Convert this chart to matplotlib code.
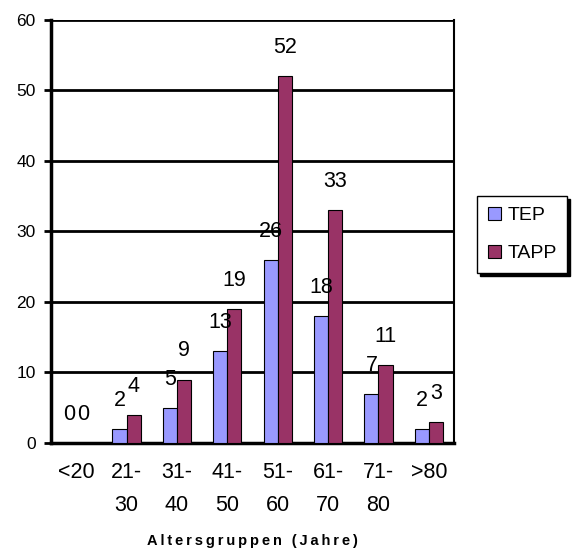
import matplotlib.pyplot as plt
import numpy as np

plt.rcParams['font.family'] = ['Liberation Sans', 'DejaVu Sans']

# age groups and patient counts per procedure
groups = ['<20', '21-\n30', '31-\n40', '41-\n50', '51-\n60', '61-\n70', '71-\n80', '>80']
tep = [0, 2, 5, 13, 26, 18, 7, 2]
tapp = [0, 4, 9, 19, 52, 33, 11, 3]
yticks = [0, 10, 20, 30, 40, 50, 60]
xlabel = 'Altersgruppen (Jahre)'

x = np.arange(len(groups))
w = 0.28

fig = plt.figure(figsize=(5.74, 5.52), dpi=100)
ax = fig.add_axes([0.0889, 0.1975, 0.7021, 0.7663])

b1 = ax.bar(x - w/2, tep, w, color='#9999FF', edgecolor='black', linewidth=0.8, label='TEP', zorder=3)
b2 = ax.bar(x + w/2, tapp, w, color='#993366', edgecolor='black', linewidth=0.8, label='TAPP', zorder=3)
for t in ax.bar_label(b1, padding=13, fontsize=15.5) + ax.bar_label(b2, padding=13, fontsize=15.5):
    t.set_zorder(4)

ax.set_xlim(-0.5, len(groups) - 0.5)
ax.set_ylim(0, 60)
ax.set_yticks(yticks)
ax.set_yticklabels([str(v) for v in yticks], fontsize=12.5)
ax.yaxis.grid(True, color='black', linewidth=2, zorder=0)

ax.set_xticks(x)
ax.set_xticklabels(groups, fontsize=15.5, linespacing=1.75, va='top')
ax.tick_params(axis='x', length=0, pad=14)
ax.tick_params(axis='y', length=5, width=2, pad=6)

for side in ['left', 'bottom']:
    ax.spines[side].set_linewidth(2.5)
ax.spines['right'].set_linewidth(1.5)
ax.spines['top'].set_visible(False)

# spaced-out bold axis title
ax.set_xlabel('\u2009'.join(xlabel), fontsize=10.5, fontweight='bold', labelpad=13)

fig.legend(loc='upper left', bbox_to_anchor=(0.831, 0.645), fontsize=14,
           frameon=True, fancybox=False, edgecolor='black', handlelength=0.7, handleheight=0.7,
           shadow={'color': 'black', 'alpha': 1}, framealpha=1, labelspacing=1.05,
           handletextpad=0.3, borderpad=0.55, borderaxespad=0)

fig.savefig('out.png', dpi=100)
